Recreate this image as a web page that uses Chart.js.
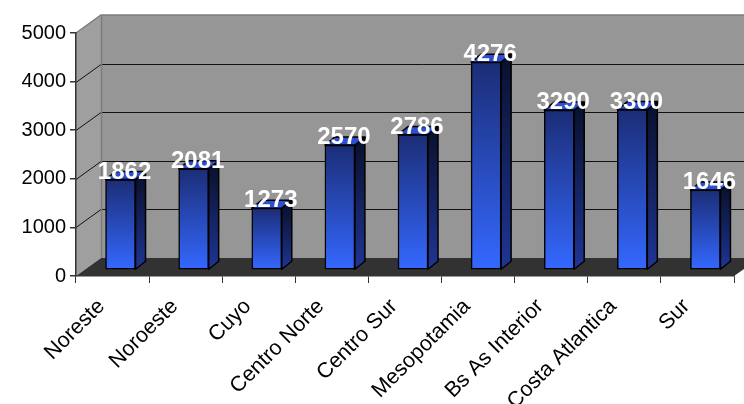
<!DOCTYPE html>
<html>
<head>
<meta charset="utf-8">
<script src="https://cdn.jsdelivr.net/npm/chart.js@4/dist/chart.umd.min.js"></script>
<style>
  html, body { margin: 0; padding: 0; background: #ffffff; }
  #c { display: block; }
</style>
</head>
<body>
<canvas id="c" width="744" height="404"></canvas>
<script>
const categories = ['Noreste', 'Noroeste', 'Cuyo', 'Centro Norte', 'Centro Sur', 'Mesopotamia', 'Bs As Interior', 'Costa Atlantica', 'Sur'];
const values = [1862, 2081, 1273, 2570, 2786, 4276, 3290, 3300, 1646];
const yTicks = [0, 1000, 2000, 3000, 4000, 5000];

const FONT = "'Liberation Sans', Arial, Helvetica, sans-serif";
// 3D look parameters
const WALL_DX = 25, WALL_DY = -18;   // depth of the walls / floor
const BAR_SHIFT_X = 8, BAR_SHIFT_Y = -6; // bar front plane inside the depth
const BAR_DX = 10, BAR_DY = -8;       // depth of each bar

const wallsPlugin = {
  id: 'walls3d',
  beforeDraw(chart) {
    const ctx = chart.ctx;
    const y = chart.scales.y;
    const a = chart.chartArea;
    const L = a.left, R = a.right;
    const y0 = y.getPixelForValue(0), yT = y.getPixelForValue(yTicks[yTicks.length - 1]);
    const W = chart.width;
    ctx.save();
    // back wall
    ctx.fillStyle = '#969696';
    ctx.fillRect(L + WALL_DX, yT + WALL_DY, W - (L + WALL_DX), (y0 - yT));
    // left wall
    ctx.beginPath();
    ctx.moveTo(L, yT); ctx.lineTo(L + WALL_DX, yT + WALL_DY);
    ctx.lineTo(L + WALL_DX, y0 + WALL_DY); ctx.lineTo(L, y0); ctx.closePath();
    ctx.fillStyle = '#9f9f9f';
    ctx.fill();
    // floor
    ctx.beginPath();
    ctx.moveTo(L, y0); ctx.lineTo(L + WALL_DX, y0 + WALL_DY);
    ctx.lineTo(W, y0 + WALL_DY); ctx.lineTo(W, y0 - 7); ctx.lineTo(R, y0); ctx.closePath();
    ctx.fillStyle = '#323232';
    ctx.fill();
    // gridlines on back and left walls
    ctx.strokeStyle = '#111111';
    ctx.lineWidth = 1;
    yTicks.forEach(v => {
      if (v === 0 || v === yTicks[yTicks.length - 1]) return;
      const py = Math.round(y.getPixelForValue(v)) + 0.5;
      ctx.beginPath();
      ctx.moveTo(L, py); ctx.lineTo(L + WALL_DX, py + WALL_DY);
      ctx.lineTo(W, py + WALL_DY);
      ctx.stroke();
    });
    // wall edges
    ctx.strokeStyle = '#7c7c7c';
    ctx.lineWidth = 1.5;
    ctx.beginPath();
    ctx.moveTo(L, yT); ctx.lineTo(L + WALL_DX, yT + WALL_DY); ctx.lineTo(W, yT + WALL_DY);
    ctx.moveTo(L + WALL_DX + 0.5, yT + WALL_DY); ctx.lineTo(L + WALL_DX + 0.5, y0 + WALL_DY);
    ctx.stroke();
    ctx.restore();
  },
  beforeDatasetsDraw(chart) {
    chart.ctx.save();
    chart.ctx.translate(BAR_SHIFT_X, BAR_SHIFT_Y);
  },
  afterDatasetsDraw(chart) {
    const ctx = chart.ctx;
    const meta = chart.getDatasetMeta(0);
    meta.data.forEach((el) => {
      const x0 = el.x - el.width / 2, x1 = el.x + el.width / 2;
      const top = el.y, base = el.base;
      // side face
      const g = ctx.createLinearGradient(0, top, 0, base);
      g.addColorStop(0, '#0a1230');
      g.addColorStop(1, '#1f3595');
      ctx.beginPath();
      ctx.moveTo(x1, top); ctx.lineTo(x1 + BAR_DX, top + BAR_DY);
      ctx.lineTo(x1 + BAR_DX, base + BAR_DY); ctx.lineTo(x1, base); ctx.closePath();
      ctx.fillStyle = g; ctx.fill();
      ctx.strokeStyle = '#000'; ctx.lineWidth = 1.5; ctx.lineJoin = 'round'; ctx.stroke();
      // top face
      ctx.beginPath();
      ctx.moveTo(x0, top); ctx.lineTo(x0 + BAR_DX, top + BAR_DY);
      ctx.lineTo(x1 + BAR_DX, top + BAR_DY); ctx.lineTo(x1, top); ctx.closePath();
      ctx.fillStyle = '#2d4fd0'; ctx.fill(); ctx.stroke();
    });
    // value labels
    ctx.font = 'bold 24px ' + FONT;
    ctx.fillStyle = '#ffffff';
    ctx.textAlign = 'center';
    ctx.textBaseline = 'alphabetic';
    meta.data.forEach((el, i) => {
      ctx.fillText(String(values[i]), el.x + 4, el.y - 1);
    });
    ctx.restore();
  }
};

new Chart(document.getElementById('c'), {
  type: 'bar',
  data: {
    labels: categories,
    datasets: [{
      data: values,
      barThickness: 30,
      borderColor: '#000000',
      borderWidth: 1.5,
      borderSkipped: false,
      clip: false,
      backgroundColor: (c) => {
        const chart = c.chart;
        if (!chart.chartArea || c.raw === undefined) return '#2a48b0';
        const ys = chart.scales.y;
        const top = ys.getPixelForValue(c.raw), bot = ys.getPixelForValue(0);
        const g = chart.ctx.createLinearGradient(0, top, 0, bot);
        g.addColorStop(0, '#1b2d76');
        g.addColorStop(1, '#3468ff');
        return g;
      }
    }]
  },
  options: {
    responsive: false,
    animation: false,
    devicePixelRatio: 1,
    layout: { padding: { top: 33, right: 10, left: 0, bottom: 0 } },
    plugins: { legend: { display: false }, tooltip: { enabled: false }, title: { display: false } },
    scales: {
      x: {
        type: 'category',
        offset: true,
        afterFit: (s) => { s.height = 128; },
        grid: { offset: true, drawOnChartArea: false, drawTicks: true, tickLength: 7, color: '#333333', lineWidth: 1 },
        border: { display: true, color: '#333333', width: 1.5 },
        ticks: {
          color: '#000000',
          font: { family: FONT, size: 21.5 },
          minRotation: 45, maxRotation: 45,
          autoSkip: false,
          labelOffset: -11,
          padding: 11
        }
      },
      y: {
        min: 0, max: 5000,
        afterFit: (s) => { s.width = 76; },
        afterBuildTicks: (s) => { s.ticks = yTicks.map(v => ({ value: v })); },
        grid: { drawOnChartArea: false, drawTicks: true, tickLength: 6, color: '#333333', lineWidth: 1.5 },
        border: { display: true, color: '#333333', width: 1.5 },
        ticks: {
          color: '#000000',
          font: { family: FONT, size: 20 },
          padding: 4,
          callback: (v) => String(v)
        }
      }
    }
  },
  plugins: [wallsPlugin]
});
</script>
</body>
</html>
